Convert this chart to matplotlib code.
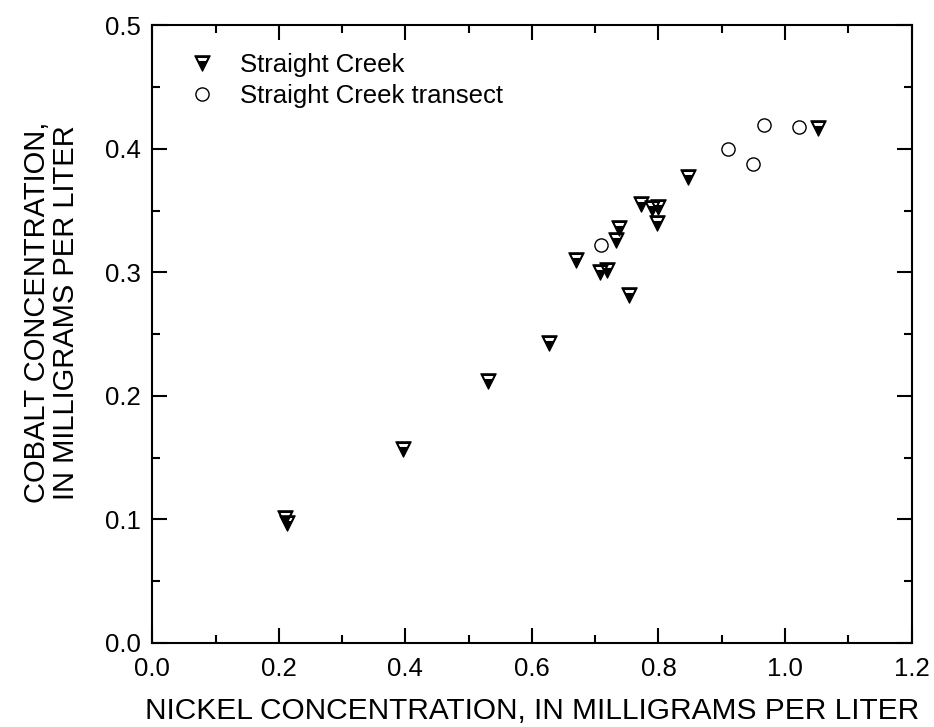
import matplotlib
matplotlib.use("Agg")
import matplotlib.pyplot as plt
from matplotlib.path import Path
from matplotlib.ticker import MultipleLocator

# Straight Creek samples (nickel vs cobalt, mg/L)
creek_ni = [0.210, 0.213, 0.397, 0.530, 0.627, 0.670, 0.707, 0.718, 0.733, 0.738,
            0.754, 0.773, 0.790, 0.800, 0.798, 0.846, 1.052]
creek_co = [0.101, 0.097, 0.157, 0.212, 0.243, 0.310, 0.300, 0.302, 0.326, 0.336,
            0.282, 0.355, 0.352, 0.353, 0.340, 0.377, 0.417]

# Straight Creek transect samples
transect_ni = [0.709, 0.910, 0.949, 0.967, 1.022]
transect_co = [0.322, 0.400, 0.388, 0.419, 0.418]

x_ticks = [0.0, 0.2, 0.4, 0.6, 0.8, 1.0, 1.2]
y_ticks = [0.0, 0.1, 0.2, 0.3, 0.4, 0.5]

plt.rcParams['font.family'] = ['Liberation Sans', 'DejaVu Sans']


def striped_triangle():
    """down triangle filled black with a thin white band under the top edge"""
    def hw(y):
        return (y + 1) / 2 - 0.12
    a, b = 0.25, 0.80
    verts = [(-1, 1), (0, -1), (1, 1), (-1, 1),
             (-hw(b), b), (hw(b), b), (hw(a), a), (-hw(a), a), (-hw(b), b)]
    codes = [Path.MOVETO, Path.LINETO, Path.LINETO, Path.CLOSEPOLY,
             Path.MOVETO, Path.LINETO, Path.LINETO, Path.LINETO, Path.CLOSEPOLY]
    return Path(verts, codes)


fig = plt.figure(figsize=(9.34, 7.27), dpi=100)
ax = fig.add_axes([0.163, 0.116, 0.813, 0.849])

ax.plot(creek_ni, creek_co, linestyle='none', marker=striped_triangle(),
        markersize=11, markerfacecolor='black', markeredgecolor='black',
        markeredgewidth=0.9, label='Straight Creek')
ax.plot(transect_ni, transect_co, linestyle='none', marker='o',
        markersize=9.5, markerfacecolor='white', markeredgecolor='black',
        markeredgewidth=1.0, label='Straight Creek transect')

ax.set_xlim(0, 1.2)
ax.set_ylim(0, 0.5)
ax.set_xticks(x_ticks)
ax.set_yticks(y_ticks)
ax.set_xticklabels([f'{v:.1f}' for v in x_ticks])
ax.set_yticklabels([f'{v:.1f}' for v in y_ticks])
ax.xaxis.set_minor_locator(MultipleLocator(0.1))
ax.yaxis.set_minor_locator(MultipleLocator(0.05))
ax.tick_params(which='both', direction='in', top=True, right=True,
               width=1.5, labelsize=18.5, pad=8)
ax.tick_params(axis='x', pad=10)
ax.tick_params(which='major', length=11)
ax.tick_params(which='minor', length=6)
for s in ax.spines.values():
    s.set_linewidth(1.5)

ax.set_xlabel('NICKEL CONCENTRATION, IN MILLIGRAMS PER LITER', fontsize=21.5,
              labelpad=12)
ax.set_ylabel('COBALT CONCENTRATION,\nIN MILLIGRAMS PER LITER', fontsize=21,
              linespacing=1.05)
ax.yaxis.set_label_coords(-0.095, 0.535)

ax.legend(loc='upper left', bbox_to_anchor=(0.049, 0.955), frameon=False,
          fontsize=18.5, handlelength=1.0, handletextpad=0.98,
          labelspacing=0.25, borderaxespad=0, borderpad=0)

fig.savefig('out.png', dpi=100)
